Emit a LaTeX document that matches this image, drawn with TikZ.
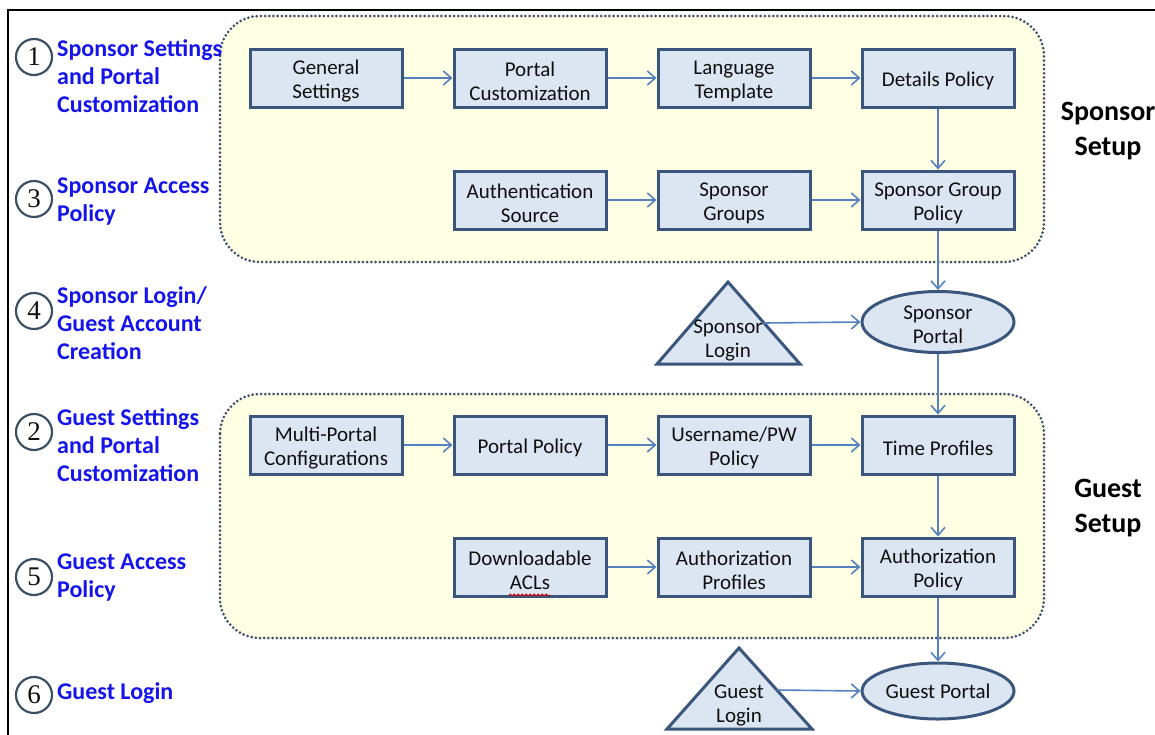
\documentclass[tikz,border=0pt]{standalone}
\usepackage{fontspec}
\setmainfont{Carlito}
\newfontfamily\digitfont{Liberation Serif}
\usetikzlibrary{arrows.meta,decorations.pathmorphing,shapes.geometric}
\definecolor{boxfill}{RGB}{220,230,242}
\definecolor{boxline}{RGB}{58,86,124}
\definecolor{areafill}{RGB}{255,255,228}
\definecolor{arealine}{RGB}{62,82,112}
\definecolor{arrowcol}{RGB}{85,130,190}
\definecolor{labelblue}{RGB}{20,20,235}
\definecolor{textdark}{RGB}{15,15,15}
\definecolor{circline}{RGB}{60,80,100}
\newcommand{\boxstrut}{\rule{0pt}{21pt}}
\begin{document}
\begin{tikzpicture}[x=1pt,y=-1pt,
  stepbox/.style={draw=boxline, line width=3pt, fill=boxfill, minimum width=152pt, minimum height=58pt, inner sep=0pt, align=center, font=\fontsize{21}{24}\selectfont, text=textdark},
  portal/.style={ellipse, draw=boxline, line width=3pt, fill=boxfill, minimum width=152pt, minimum height=56pt, inner sep=0pt, align=center, font=\fontsize{21}{24}\selectfont, text=textdark},
  tri/.style={draw=boxline, line width=3pt, fill=boxfill, line join=miter},
  tritext/.style={align=center, font=\fontsize{21}{24}\selectfont, text=textdark, inner sep=0pt},
  area/.style={draw=arealine, fill=areafill, line width=3pt, dash pattern=on 0pt off 4.2pt, line cap=round, rounded corners=40pt},
  conn/.style={draw=arrowcol, line width=1.6pt, -{Straight Barb[length=8pt,width=14pt,line width=1.6pt]}},
  numcirc/.style={circle, draw=circline, line width=2.2pt, minimum size=36pt, inner sep=0pt, text=textdark, font=\digitfont\fontsize{27}{27}\selectfont},
  bluelabel/.style={anchor=base west, align=left, inner sep=0pt, text=labelblue, font=\bfseries\fontsize{24}{28}\selectfont},
  setuplabel/.style={anchor=base, align=center, inner sep=0pt, text=black, font=\bfseries\fontsize{28}{35}\selectfont}
]
\useasboundingbox (0,0) rectangle (1155,734);
\begin{scope}
\clip (0,0) rectangle (1155,734);
% frame
\draw[line width=1.8pt, black] (8,740) -- (8,10) -- (1160,10);

% containers
\draw[area] (220,16) rectangle (1044,262);
\draw[area] (220,394) rectangle (1044,638);

% left labels (anchor = baseline of last line)
\node[numcirc] (n1) at (34,57) {1};
\node[bluelabel] (l1) at (57,112) {Sponsor Settings\\and Portal\\Customization};
\node[numcirc] (n3) at (34,199) {3};
\node[bluelabel] (l3) at (57,221) {Sponsor Access\\Policy};
\node[numcirc] (n4) at (34,311) {4};
\node[bluelabel] (l4) at (57,359) {Sponsor Login/\\Guest Account\\Creation};
\node[numcirc] (n2) at (34,432) {2};
\node[bluelabel] (l2) at (57,481) {Guest Settings\\and Portal\\Customization};
\node[numcirc] (n5) at (34,577) {5};
\node[bluelabel] (l5) at (57,597) {Guest Access\\Policy};
\node[numcirc] (n6) at (34,695) {6};
\node[bluelabel] (l6) at (57,699) {Guest Login};

% right labels
\node[setuplabel] (ss) at (1108,155) {Sponsor\\Setup};
\node[setuplabel] (gs) at (1108,532) {Guest\\Setup};

% sponsor boxes
\node[stepbox] (gset) at (326,78) {\boxstrut General\\Settings};
\node[stepbox] (pc) at (530,78) {\boxstrut Portal\\Customization};
\node[stepbox] (lt) at (734,78) {\boxstrut Language\\Template};
\node[stepbox] (dp) at (938,78) {\boxstrut Details Policy};
\node[stepbox] (as) at (530,200) {\boxstrut Authentication\\Source};
\node[stepbox] (sg) at (734,200) {\boxstrut Sponsor\\Groups};
\node[stepbox] (sgp) at (938,200) {\boxstrut Sponsor Group\\Policy};

% sponsor login / portal
\draw[tri] (728,282) -- (800,364) -- (657,364) -- cycle;
\coordinate (slr) at (764,323);
\node[tritext] (slt) at (728,340) {Sponsor\\Login};
\node[portal] (sp) at (938,322) {\rule{0pt}{19pt}Sponsor\\Portal};

% guest boxes
\node[stepbox] (mpc) at (326,445) {\boxstrut Multi-Portal\\Configurations};
\node[stepbox] (pp) at (530,445) {\boxstrut Portal Policy};
\node[stepbox] (up) at (734,445) {\boxstrut Username/PW\\Policy};
\node[stepbox] (tp) at (938,445) {\boxstrut Time Profiles};
\node[stepbox] (dacl) at (530,567) {\boxstrut Downloadable\\ACLs};
\node[stepbox] (azp) at (734,567) {\boxstrut Authorization\\Profiles};
\node[stepbox] (azpol) at (938,567) {\boxstrut Authorization\\Policy};

% guest login / portal
\draw[tri] (739,648) -- (812,729) -- (667,729) -- cycle;
\coordinate (glr) at (777,690);
\node[tritext] (glt) at (739,705) {Guest\\Login};
\node[portal] (gp) at (938,691) {Guest Portal};

% spell-check squiggle under ACLs
\draw[red!85!black, line width=0.8pt, decorate, decoration={snake, amplitude=1pt, segment length=4pt}] (509,595) -- (550,595);

% connectors
\draw[conn] (gset) -- (pc);
\draw[conn] (pc) -- (lt);
\draw[conn] (lt) -- (dp);
\draw[conn] (dp) -- (sgp);
\draw[conn] (as) -- (sg);
\draw[conn] (sg) -- (sgp);
\draw[conn] (sgp) -- (sp);
\draw[conn] (slr) -- (sp.west);
\draw[conn] (sp) -- (tp);
\draw[conn] (mpc) -- (pp);
\draw[conn] (pp) -- (up);
\draw[conn] (up) -- (tp);
\draw[conn] (tp) -- (azpol);
\draw[conn] (dacl) -- (azp);
\draw[conn] (azp) -- (azpol);
\draw[conn] (azpol) -- (gp);
\draw[conn] (glr) -- (gp.west);
\end{scope}
\end{tikzpicture}
\end{document}
